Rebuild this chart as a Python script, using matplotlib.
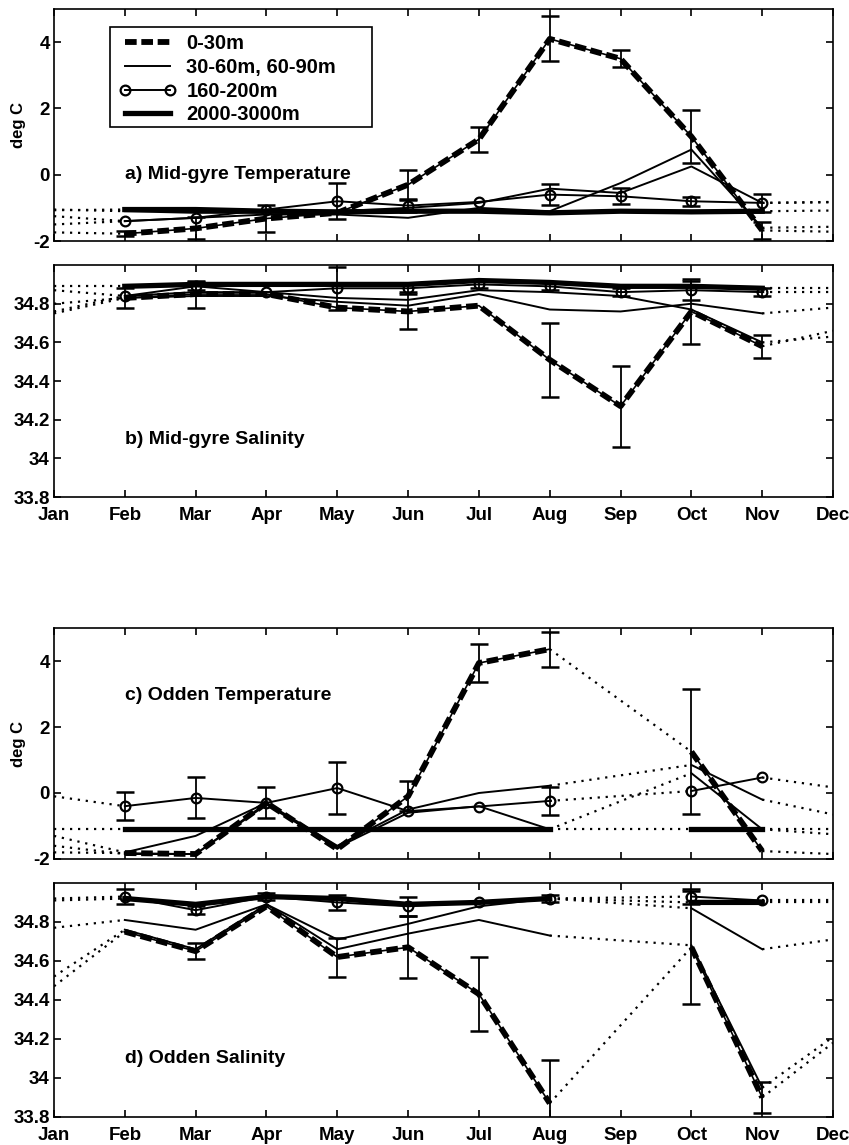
"""
Seasonal cycle of temperature and salinity, mid-gyre vs Odden,
for several depth bands (MATLAB-style four-panel figure).
"""

import numpy as np
import matplotlib.pyplot as plt
from matplotlib.lines import Line2D
from matplotlib.patches import Rectangle

nan = np.nan

# ── Data (Jan..Dec; Jan/Dec are the dotted wrap-around ends) ──────────────────
months = np.arange(1, 13)
month_labels = ["Jan", "Feb", "Mar", "Apr", "May", "Jun",
                "Jul", "Aug", "Sep", "Oct", "Nov", "Dec"]

# a) Mid-gyre temperature
a_surf     = [-1.74, -1.78, -1.62, -1.32, -1.15, -0.3, 1.07, 4.1, 3.5, 1.15, -1.68, -1.72]
a_surf_err = [nan, 0.08, 0.33, 0.4, nan, 0.45, 0.38, 0.68, 0.26, 0.8, 0.25, nan]
a_thin1    = [-1.5, -1.4, -1.3, -1.2, -1.2, -1.3, -1.0, -1.1, -0.25, 0.76, -1.6, -1.57]
a_thin2    = [-1.05, -1.1, -1.15, -1.15, -1.1, -1.0, -0.85, -0.42, -0.55, 0.25, -0.85, -0.82]
a_circ     = [-1.25, -1.4, -1.3, -1.05, -0.8, -0.93, -0.82, -0.6, -0.65, -0.8, -0.85, -0.83]
a_circ_err = [nan, nan, nan, nan, 0.55, 0.2, nan, 0.32, 0.24, 0.14, 0.27, nan]
a_deep     = [-1.07, -1.05, -1.05, -1.1, -1.12, -1.1, -1.1, -1.15, -1.1, -1.12, -1.1, -1.08]

# b) Mid-gyre salinity
b_surf     = [34.75, 34.83, 34.85, 34.85, 34.78, 34.76, 34.79, 34.51, 34.27, 34.76, 34.58, 34.66]
b_surf_err = [nan, 0.05, 0.07, nan, nan, 0.09, nan, 0.19, 0.21, 0.17, 0.06, nan]
b_thin1    = [34.76, 34.84, 34.86, 34.86, 34.83, 34.82, 34.87, 34.86, 34.84, 34.77, 34.6, 34.63]
b_thin2    = [34.8, 34.83, 34.84, 34.84, 34.81, 34.79, 34.85, 34.77, 34.76, 34.8, 34.75, 34.78]
b_circ     = [34.87, 34.84, 34.89, 34.86, 34.88, 34.88, 34.9, 34.89, 34.86, 34.87, 34.86, 34.86]
b_circ_err = [nan, nan, 0.02, nan, 0.11, 0.02, 0.02, 0.02, 0.02, 0.05, 0.02, nan]
b_deep     = [34.89, 34.89, 34.9, 34.9, 34.9, 34.9, 34.92, 34.91, 34.89, 34.89, 34.88, 34.88]

# c) Odden temperature (no September data)
c_surf     = [-1.8, -1.82, -1.85, -0.3, -1.7, -0.1, 3.94, 4.36, nan, 1.25, -1.76, -1.85]
c_surf_err = [nan, nan, nan, nan, nan, 0.45, 0.58, 0.53, nan, 1.9, nan, nan]
c_thin1    = [-1.3, -1.8, -1.3, -0.3, -1.6, -0.5, 0.0, 0.22, nan, 0.85, -0.2, -0.65]
c_thin2    = [-1.6, -1.85, -1.85, -0.35, -1.65, -0.6, -0.4, -1.1, nan, 0.6, -1.1, -1.25]
c_circ     = [-0.1, -0.4, -0.15, -0.3, 0.15, -0.55, -0.41, -0.24, nan, 0.06, 0.47, 0.17]
c_circ_err = [nan, 0.42, 0.62, 0.47, 0.8, nan, nan, 0.43, nan, nan, nan, nan]
c_deep     = [-1.1, -1.1, -1.1, -1.1, -1.1, -1.1, -1.1, -1.1, nan, -1.1, -1.1, -1.1]

# d) Odden salinity (no September data)
d_surf     = [34.47, 34.75, 34.65, 34.88, 34.62, 34.67, 34.43, 33.87, nan, 34.67, 33.9, 34.18]
d_surf_err = [nan, nan, 0.04, nan, 0.1, 0.16, 0.19, 0.22, nan, 0.29, 0.08, nan]
d_thin1    = [34.77, 34.81, 34.76, 34.89, 34.71, 34.79, 34.88, 34.92, nan, 34.87, 34.66, 34.71]
d_thin2    = [34.52, 34.76, 34.66, 34.89, 34.66, 34.74, 34.81, 34.73, nan, 34.68, 33.95, 34.21]
d_circ     = [34.92, 34.93, 34.86, 34.93, 34.9, 34.88, 34.9, 34.92, nan, 34.93, 34.91, 34.91]
d_circ_err = [nan, 0.04, 0.02, 0.02, 0.04, 0.05, nan, 0.02, nan, 0.04, nan, nan]
d_deep     = [34.91, 34.92, 34.89, 34.93, 34.92, 34.89, 34.9, 34.92, nan, 34.9, 34.9, 34.9]

legend_labels = ["0-30m", "30-60m, 60-90m", "160-200m", "2000-3000m"]

# ── Style ─────────────────────────────────────────────────────────────────────
plt.rcParams["font.family"] = ["Liberation Sans", "DejaVu Sans"]
plt.rcParams["font.weight"] = "bold"

DOT  = (0, (1, 2.6))
DASH = (0, (2.0, 0.8))
FS   = 13.5


def inner(y):
    y = np.array(y, float)
    y[0] = nan
    y[-1] = nan
    return y


def links(ax, y):
    # dotted segments: wrap-around ends and gaps in the record
    y = np.asarray(y, float)
    ok = ~np.isnan(y)
    xs, ys = months[ok], y[ok]
    for i in range(len(xs) - 1):
        if xs[i] == 1 or xs[i + 1] == 12 or xs[i + 1] - xs[i] > 1:
            ax.plot(xs[i:i + 2], ys[i:i + 2], color="k", lw=1.6, ls=DOT, zorder=2)


def draw(ax, surf, surf_err, thin1, thin2, circ, circ_err, deep):
    for y in (deep, thin1, thin2, circ, surf):
        links(ax, y)
    ax.plot(months, inner(deep), color="k", lw=3.8, zorder=3)
    for y in (thin1, thin2):
        ax.plot(months, inner(y), color="k", lw=1.4, zorder=4)
    ax.plot(months, inner(circ), color="k", lw=1.4, marker="o", ms=7,
            mfc="none", mew=1.6, zorder=5)
    ax.errorbar(months, circ, yerr=circ_err, fmt="none", ecolor="k",
                elinewidth=1.3, capsize=6.5, capthick=1.8, zorder=5)
    ax.plot(months, inner(surf), color="k", lw=1.2, zorder=6)
    ax.plot(months, inner(surf), color="k", lw=4.2, ls=DASH, zorder=6)
    ax.errorbar(months, surf, yerr=surf_err, fmt="none", ecolor="k",
                elinewidth=1.3, capsize=6.5, capthick=1.8, zorder=6)


def style(ax, ylim, yticks, ytl, xlabels):
    ax.set_xlim(1, 12)
    ax.set_ylim(*ylim)
    ax.set_xticks(months)
    ax.set_xticklabels(month_labels if xlabels else [])
    ax.set_yticks(yticks)
    ax.set_yticklabels(ytl)
    ax.tick_params(direction="in", top=True, right=True, length=5, width=1.2,
                   labelsize=FS, pad=3)
    ax.tick_params(axis="x", pad=7)
    for s in ax.spines.values():
        s.set_linewidth(1.2)


# ── Figure ────────────────────────────────────────────────────────────────────
fig = plt.figure(figsize=(8.49, 11.45), dpi=100)
L, W = 0.0636, 0.9176
ax_a = fig.add_axes([L, 0.7895, W, 0.2026])
ax_b = fig.add_axes([L, 0.5659, W, 0.2026])
ax_c = fig.add_axes([L, 0.2498, W, 0.2017])
ax_d = fig.add_axes([L, 0.0245, W, 0.2044])

t_ticks = [-2, 0, 2, 4]
t_tl = ["-2", "0", "2", "4"]
s_ticks = [33.8, 34.0, 34.2, 34.4, 34.6, 34.8]
s_tl = ["33.8", "34", "34.2", "34.4", "34.6", "34.8"]

draw(ax_a, a_surf, a_surf_err, a_thin1, a_thin2, a_circ, a_circ_err, a_deep)
draw(ax_b, b_surf, b_surf_err, b_thin1, b_thin2, b_circ, b_circ_err, b_deep)
draw(ax_c, c_surf, c_surf_err, c_thin1, c_thin2, c_circ, c_circ_err, c_deep)
draw(ax_d, d_surf, d_surf_err, d_thin1, d_thin2, d_circ, d_circ_err, d_deep)

style(ax_a, (-2, 5), t_ticks, t_tl, False)
style(ax_b, (33.8, 35.0), s_ticks, s_tl, True)
style(ax_c, (-2, 5), t_ticks, t_tl, False)
style(ax_d, (33.8, 35.0), s_ticks, s_tl, True)

for ax in (ax_a, ax_c):
    ax.set_ylabel("deg C", fontsize=12, fontweight="bold", labelpad=5)

ax_a.text(2, 0, "a) Mid-gyre Temperature", fontsize=14, va="center")
ax_b.text(2, 34.1, "b) Mid-gyre Salinity", fontsize=14, va="center")
ax_c.text(2, 2.95, "c) Odden Temperature", fontsize=14, va="center")
ax_d.text(2, 34.1, "d) Odden Salinity", fontsize=14, va="center")

# ── Legend (frame drawn separately to match the wide MATLAB box) ─────────────
handles = [
    Line2D([], [], color="k", lw=4.2, ls=DASH),
    Line2D([], [], color="k", lw=1.4),
    Line2D([], [], color="k", lw=1.4, marker="o", ms=7, mfc="none", mew=1.6),
    Line2D([], [], color="k", lw=3.8),
]
ax_a.add_patch(Rectangle((0.072, 0.491), 0.336, 0.431, transform=ax_a.transAxes,
                         facecolor="white", edgecolor="k", lw=1.2, zorder=9))
leg = ax_a.legend(handles, legend_labels, loc="upper left",
                  bbox_to_anchor=(0.078, 0.91), borderaxespad=0,
                  fontsize=14.5, handlelength=2.85, handletextpad=0.5,
                  labelspacing=0.24, borderpad=0.2, numpoints=2,
                  frameon=False)
leg.set_zorder(10)

fig.savefig("out.png", dpi=100)
